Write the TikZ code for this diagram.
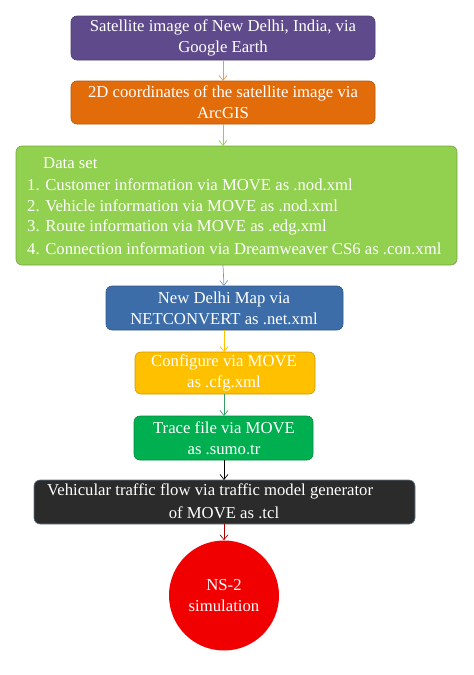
\documentclass[tikz,border=0pt]{standalone}
\usepackage{fontspec}
\setmainfont{Liberation Serif}
\usetikzlibrary{arrows.meta}
\definecolor{cpurple}{HTML}{5F4B8B}
\definecolor{corange}{HTML}{E36C0A}
\definecolor{clgreen}{HTML}{92D050}
\definecolor{cblue}{HTML}{3C6DA8}
\definecolor{cyellow}{HTML}{FFC000}
\definecolor{cgreen}{HTML}{00B050}
\definecolor{cdark}{HTML}{2B2B2B}
\definecolor{cred}{HTML}{F00000}
\begin{document}
\begin{tikzpicture}[x=1pt,y=-1pt,
  box/.style={rounded corners=6pt, draw=#1!80!black, line width=0.6pt, fill=#1},
  txt/.style={text=white, font=\fontsize{16.7}{21}\selectfont, inner sep=0pt},
  flow/.style={draw=#1, line width=0.7pt, -{Straight Barb[length=5pt,width=8pt]}}]
\useasboundingbox (0,0) rectangle (474,675);
% boxes
\draw[box=cpurple] (71,16) rectangle (375,60);
\node[txt, align=center] (b1) at (223,38) {Satellite image of New Delhi, India, via\\Google Earth};
\coordinate (b1s) at (223,60);
\draw[box=corange] (71,81) rectangle (375,124);
\node[txt, align=center] (b2) at (223,102.5) {2D coordinates of the satellite image via\\ArcGIS};
\coordinate (b2n) at (223,81);
\coordinate (b2s) at (223,124);
\draw[box=clgreen] (16,146) rectangle (457,265);
\coordinate (b3n) at (223,146);
\coordinate (b3s) at (223,265);
\node[txt, anchor=west] (d0) at (43,163) {Data set};
\node[txt, anchor=west] (d1) at (27,184.5) {1. Customer information via MOVE as .nod.xml};
\node[txt, anchor=west] (d2) at (27,206) {2. Vehicle information via MOVE as .nod.xml};
\node[txt, anchor=west] (d3) at (27,227.5) {3. Route information via MOVE as .edg.xml};
\node[txt, anchor=west] (d4) at (27,249) {4. Connection information via Dreamweaver CS6 as .con.xml};
\draw[box=cblue] (106,286) rectangle (343,330);
\node[txt, align=center] (b4) at (224,308) {New Delhi Map via\\NETCONVERT as .net.xml};
\coordinate (b4n) at (224,286);
\coordinate (b4s) at (224,330);
\draw[box=cyellow] (135,352) rectangle (315,394);
\node[txt, align=center] (b5) at (224,373) {Configure via MOVE\\as .cfg.xml};
\coordinate (b5n) at (224,352);
\coordinate (b5s) at (224,394);
\draw[box=cgreen] (134,416) rectangle (313,460);
\node[txt, align=center] (b6) at (224,438) {Trace file via MOVE\\as .sumo.tr};
\coordinate (b6n) at (224,416);
\coordinate (b6s) at (224,460);
\draw[box=cdark, draw=cblue!40!gray] (34,480) rectangle (415,524);
\node[txt, anchor=west] (b7a) at (47,491.5) {Vehicular traffic flow via traffic model generator};
\node[txt] (b7b) at (224,513) {of MOVE as .tcl};
\coordinate (b7n) at (224,480);
\coordinate (b7s) at (224,524);
\node[circle, fill=cred, minimum size=110pt, inner sep=0pt, text=white, align=center,
  font=\fontsize{16.7}{21}\selectfont] (c) at (224,595.5) {NS-2\\simulation};
% arrows
\draw[flow=corange!70!white] (b1s) -- (b2n);
\draw[flow=clgreen] (b2s) -- (b3n);
\draw[flow=cblue!70!white] (b3s) -- (b4n);
\draw[flow=cyellow] (b4s) -- (b5n);
\draw[flow=cgreen!60!gray] (b5s) -- (b6n);
\draw[flow=black] (b6s) -- (b7n);
\draw[flow=cred!70!black] (b7s) -- (c.north);
\end{tikzpicture}
\end{document}
